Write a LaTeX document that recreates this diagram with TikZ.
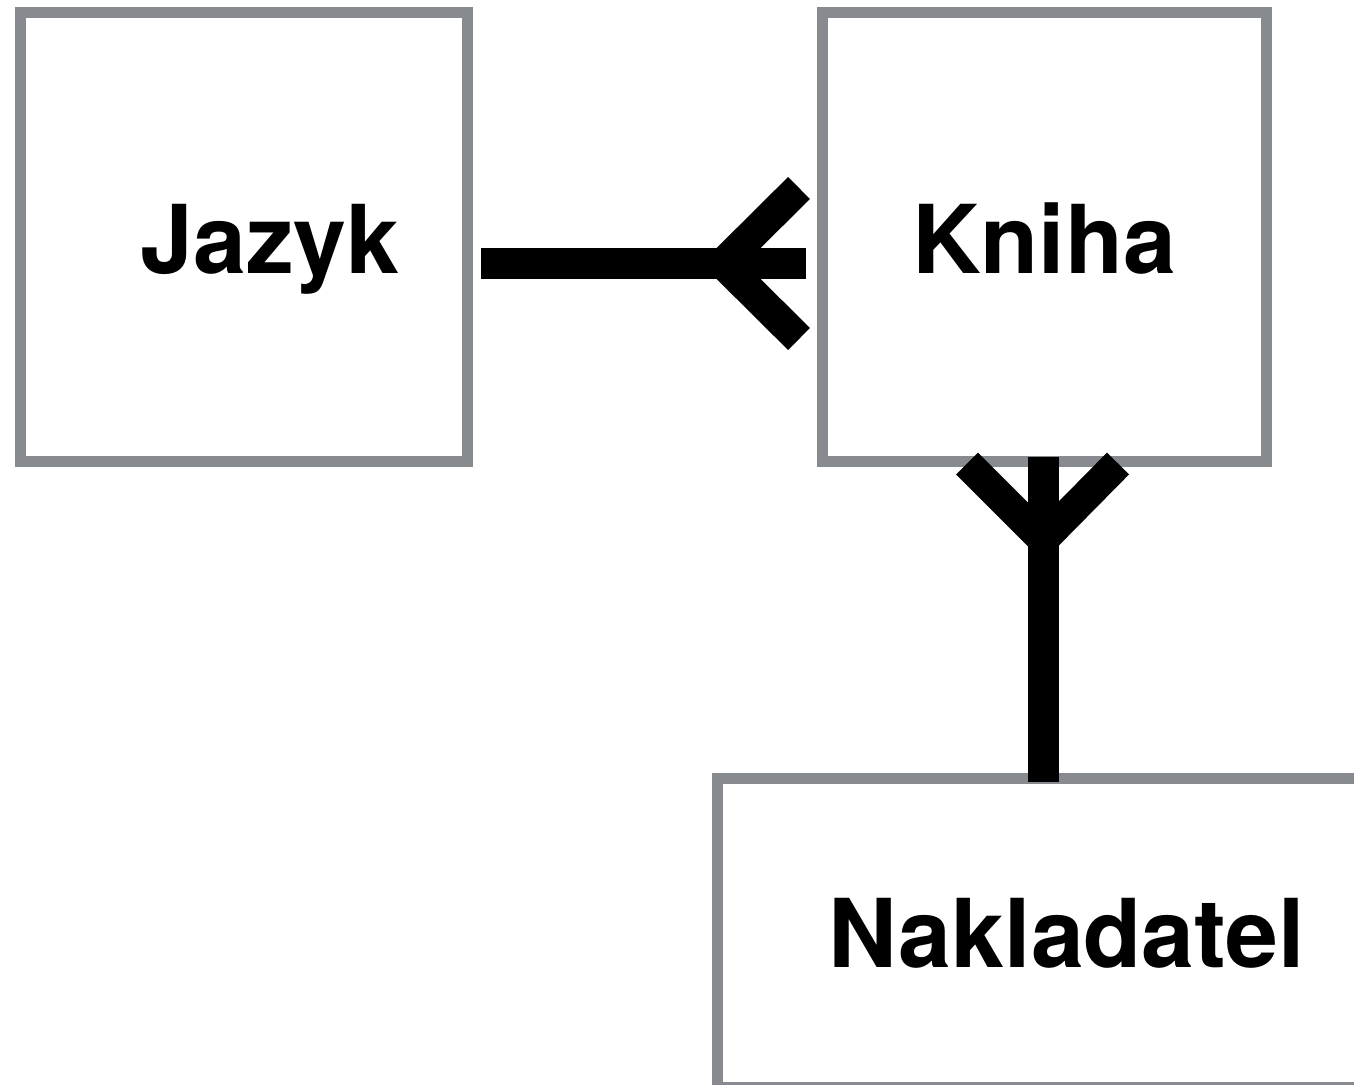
\documentclass[tikz,border=0pt]{standalone}
\usepackage{fontspec}
\setmainfont{TeX Gyre Heros}
\definecolor{boxgray}{HTML}{878A8E}
\begin{document}
\begin{tikzpicture}[x=0.5pt,y=-0.5pt,
  entity/.style={draw=boxgray,line width=5.5pt,fill=white,inner sep=0pt,rectangle},
  lbl/.style={anchor=base,inner sep=0pt,font=\bfseries\fontsize{47.5}{57}\selectfont},
  rel/.style={line width=15.5pt,line cap=butt,black}]
\useasboundingbox (0,0) rectangle (1354,1085);
\clip (0,0) rectangle (1354,1085);
% boxes
\node[entity,minimum width=223.5pt,minimum height=224pt] (jazyk) at (243.5,237) {};
\node[entity,minimum width=222pt,minimum height=224pt] (kniha) at (1044,237) {};
\node[entity,minimum width=351.5pt,minimum height=154.5pt] (nakl) at (1068.5,932.5) {};
% labels
\node[lbl] (tj) at (270,274) {Jazyk};
\node[lbl] (tk) at (1044,274) {Kniha};
\node[lbl] (tn) at (1067,967) {Nakladatel};
% helper coordinates
\coordinate (hy) at (0,263.5);
\coordinate (vx) at (1043,0);
% Jazyk -- Kniha (many at Kniha)
\coordinate (hs) at ([xshift=4.25pt]jazyk.east |- hy);
\coordinate (he) at ([xshift=-5.25pt]kniha.west |- hy);
\coordinate (hj) at ([xshift=-46.75pt]kniha.west |- hy);
\coordinate (ht1) at ([xshift=-8.75pt,yshift=37.75pt]kniha.west |- hy);
\coordinate (ht2) at ([xshift=-8.75pt,yshift=-37.75pt]kniha.west |- hy);
\draw[rel] (hs) -- (he);
\draw[rel] (ht1) -- (hj) -- (ht2);
% Kniha -- Nakladatel (many at Kniha)
\coordinate (vs) at ([yshift=4.75pt]kniha.south -| vx);
\coordinate (ve) at ([yshift=-4.75pt]nakl.north -| vx);
\coordinate (vj) at ([yshift=-36.5pt]kniha.south -| vx);
\coordinate (vt1) at ([xshift=-38pt,yshift=1.5pt]kniha.south -| vx);
\coordinate (vt2) at ([xshift=37.5pt,yshift=1.5pt]kniha.south -| vx);
\draw[rel] (vs) -- (ve);
\draw[rel] (vt1) -- (vj) -- (vt2);
\end{tikzpicture}
\end{document}
